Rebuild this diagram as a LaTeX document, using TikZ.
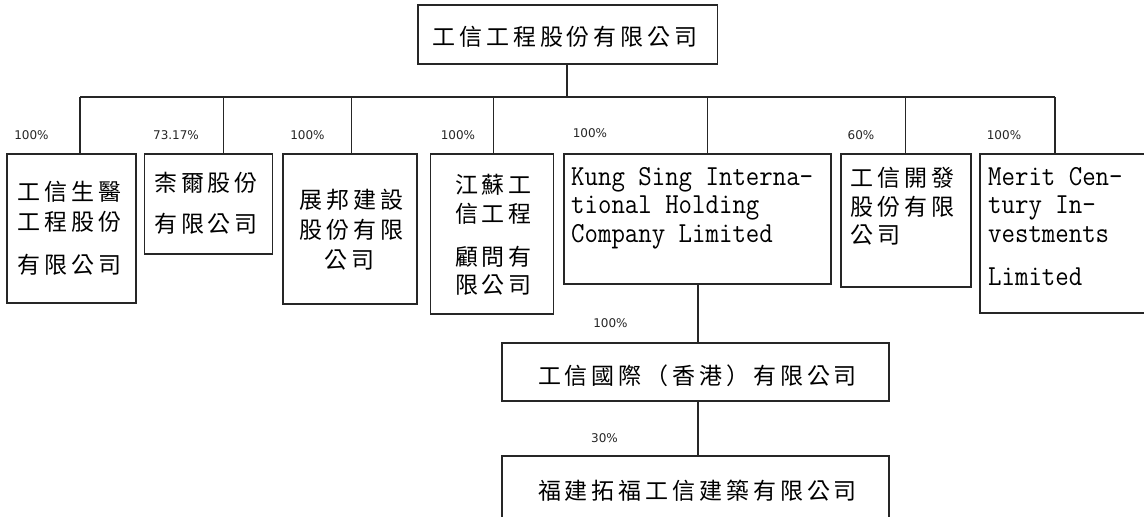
\documentclass[tikz,border=0pt]{standalone}
\usepackage{graphicx}
\usepackage{fontspec}
\setmainfont{Liberation Serif}
\newfontfamily\cjk[LetterSpace=17]{Noto Sans CJK TC}
\newfontfamily\pctfont{DejaVu Sans}
\usetikzlibrary{fit}
\newcommand\entxt[1]{\scalebox{0.9}[1]{#1}}
\tikzset{
  boxst/.style={draw=black!85, line width=1.4pt, inner sep=0pt},
  conn/.style={draw=black!85, line width=1.2pt},
  zh/.style={font=\cjk\fontsize{23}{23}\selectfont, inner sep=0pt, text=black},
  en/.style={font=\ttfamily\fontsize{29}{29}\selectfont, inner sep=0pt, anchor=base west, text=black},
  pct/.style={font=\pctfont\fontsize{12}{12}\selectfont, inner sep=0pt, text=black!85}
}
\begin{document}
\begin{tikzpicture}[x=1pt,y=-1pt]
\useasboundingbox (0,0) rectangle (1144,517);
\clip (0,0) rectangle (1144,517);
\fill[white] (0,0) rectangle (1144,517);

% boxes
\node[boxst, fit={(418,5)(717.5,64)}] (top) {};
\node[boxst, fit={(7,154)(136,303)}] (b1) {};
\node[boxst, fit={(144.5,154)(272.5,254)}] (b2) {};
\node[boxst, fit={(283,154)(417,304)}] (b3) {};
\node[boxst, fit={(430.5,154)(553.5,314)}] (b4) {};
\node[boxst, fit={(564,154)(831,284)}] (b5) {};
\node[boxst, fit={(841,154)(971,287)}] (b6) {};
\node[boxst, fit={(980,154)(1170,313)}] (b7) {};
\node[boxst, fit={(502,343)(889,401)}] (hk) {};
\node[boxst, fit={(502,456)(889,545)}] (fj) {};

% connectors
\coordinate (t0) at (567,97);
\coordinate (busL) at (80,97);
\coordinate (busR) at (1055,97);
\draw[conn] (t0 |- top.south) -- (t0);
\draw[conn] (busL) -- (busR);
\foreach \n/\x in {b1/80,b2/223.3,b3/351.3,b4/493.3,b5/707.5,b6/905.6,b7/1055}{
  \coordinate (j\n) at (\x,97);
  \draw[conn] (j\n) -- (j\n |- \n.north);
}
\coordinate (s1) at (698,300);
\draw[conn] (b5.south -| s1) -- (hk.north -| s1);
\draw[conn] (hk.south -| s1) -- (fj.north -| s1);

% texts
\node[zh] (ttop) at (565,37) {工信工程股份有限公司};

\node[zh, anchor=west] (t1a) at (17.5,192) {工信生醫};
\node[zh, anchor=west] (t1b) at (17.5,222) {工程股份};
\node[zh, anchor=west] (t1c) at (17.5,265) {有限公司};

\node[zh, anchor=west] (t2a) at (154,182.5) {柰爾股份};
\node[zh, anchor=west] (t2b) at (154,224) {有限公司};

\node[zh] (t3a) at (351.5,200) {展邦建設};
\node[zh] (t3b) at (351.5,230) {股份有限};
\node[zh] (t3c) at (349.5,260) {公司};

\node[zh] (t4a) at (493.5,185) {江蘇工};
\node[zh] (t4b) at (493.5,214) {信工程};
\node[zh] (t4c) at (493.5,257) {顧問有};
\node[zh] (t4d) at (493.5,285) {限公司};

\node[en] (t5a) at (571,185) {\entxt{Kung Sing Interna-}};
\node[en] (t5b) at (571,213) {\entxt{tional Holding}};
\node[en] (t5c) at (571,242) {\entxt{Company Limited}};

\node[zh, anchor=west] (t6a) at (850.5,178) {工信開發};
\node[zh, anchor=west] (t6b) at (850.5,207) {股份有限};
\node[zh, anchor=west] (t6c) at (850.5,235) {公司};

\node[en] (t7a) at (988,185) {\entxt{Merit Cen-}};
\node[en] (t7b) at (988,213) {\entxt{tury In-}};
\node[en] (t7c) at (988,242) {\entxt{vestments}};
\node[en] (t7d) at (988,285) {\entxt{Limited}};

\node[zh] (thk) at (697.5,375.5) {工信國際（香港）有限公司};
\node[zh] (tfj) at (697.5,491) {福建拓福工信建築有限公司};

% percentages
\node[pct] (p1) at (31.5,135) {100\%};
\node[pct] (p2) at (176,135) {73.17\%};
\node[pct] (p3) at (307.5,135) {100\%};
\node[pct] (p4) at (458,135) {100\%};
\node[pct] (p5) at (590,133) {100\%};
\node[pct] (p6) at (861,135) {60\%};
\node[pct] (p7) at (1004,135) {100\%};
\node[pct] (p8) at (610.5,323.5) {100\%};
\node[pct] (p9) at (604.5,438) {30\%};
\end{tikzpicture}
\end{document}
